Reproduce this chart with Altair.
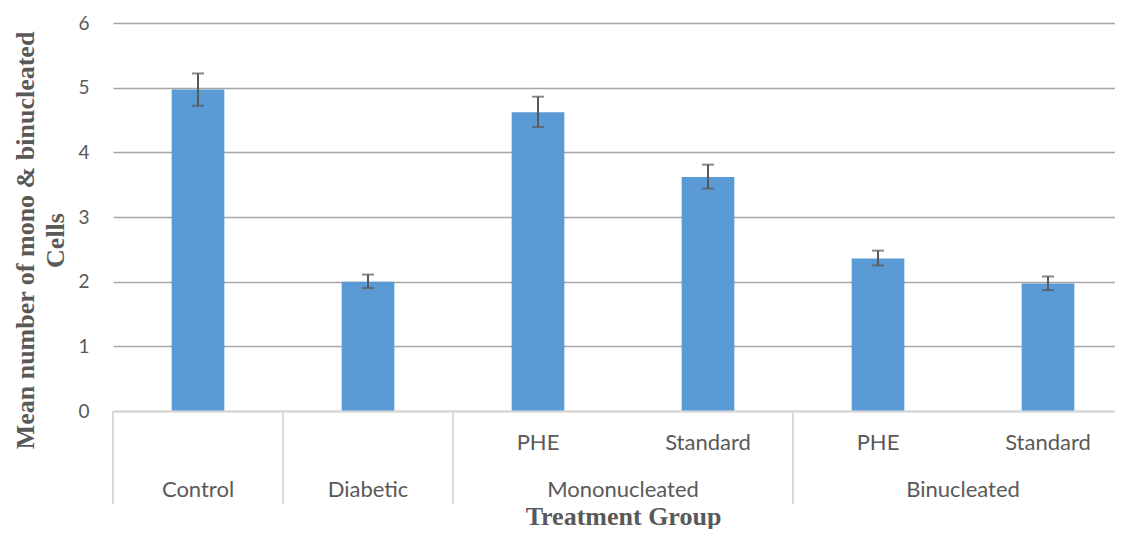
import altair as alt
import pandas as pd

groups = ["Control", "Diabetic", "Mononucleated", "Mononucleated", "Binucleated", "Binucleated"]
subs = ["", "", "PHE", "Standard", "PHE", "Standard"]
means = [4.97, 2.00, 4.62, 3.62, 2.36, 1.97]
err_low = [4.72, 1.90, 4.39, 3.44, 2.25, 1.87]
err_high = [5.22, 2.11, 4.86, 3.81, 2.48, 2.08]
y_ticks = [0, 1, 2, 3, 4, 5, 6]

keys = [g + ("|" + s if s else "") for g, s in zip(groups, subs)]
df = pd.DataFrame({"key": keys, "group": groups, "sub": subs,
                   "mean": means, "lo": err_low, "hi": err_high})

# group boundaries / label anchors
sep_rows, single_rows, multi_rows = [], [], []
for g in dict.fromkeys(groups):
    idx = [i for i, gg in enumerate(groups) if gg == g]
    sep_rows.append({"key": keys[idx[0]]})
    if len(idx) == 1:
        single_rows.append({"key": keys[idx[0]], "group": g})
    else:
        multi_rows.append({"key": keys[idx[-1]], "group": g})
df_sep = pd.DataFrame(sep_rows)
df_single = pd.DataFrame(single_rows)
df_multi = pd.DataFrame(multi_rows)
df_sub = df[df["sub"] != ""]

TXT = "#595959"
x_scale = alt.Scale(domain=keys, range=[0, 1020], paddingInner=0, paddingOuter=0)
y_scale = alt.Scale(domain=[0, 6])

bars = alt.Chart(df).mark_bar(color="#5b9bd5", width=alt.RelativeBandSize(0.31)).encode(
    x=alt.X("key:N", scale=x_scale, sort=keys,
            axis=alt.Axis(labels=False, ticks=False, grid=False, domain=True,
                          domainColor="#d9d9d9", domainWidth=2, zindex=1,
                          title="Treatment Group", titleFont="Liberation Serif",
                          titleFontWeight="bold", titleFontSize=26, titleColor=TXT,
                          titleBaseline="alphabetic", titleAlign="center",
                          titleX=510, titleY=113)),
    y=alt.Y("mean:Q", scale=y_scale,
            axis=alt.Axis(values=y_ticks, format="d", grid=True, gridColor="#a6a6a6",
                          gridWidth=1.5, domain=False, ticks=False, labelFont="Lato",
                          labelFontSize=19, labelColor=TXT, labelPadding=24,
                          title=["Mean number of mono & binucleated", "Cells"],
                          titleFont="Liberation Serif", titleFontWeight="bold",
                          titleFontSize=26, titleColor=TXT, titleAngle=270,
                          titleBaseline="middle", titleAlign="center",
                          titleLineHeight=30, titleX=-88, titleY=217)),
)

err = alt.Chart(df).mark_rule(color=TXT, strokeWidth=2).encode(
    x=alt.X("key:N", scale=x_scale, sort=keys),
    y=alt.Y("lo:Q", scale=y_scale), y2="hi:Q")
cap_lo = alt.Chart(df).mark_tick(color=TXT, thickness=2, size=12, orient="horizontal").encode(
    x=alt.X("key:N", scale=x_scale, sort=keys), y=alt.Y("lo:Q", scale=y_scale))
cap_hi = alt.Chart(df).mark_tick(color=TXT, thickness=2, size=12, orient="horizontal").encode(
    x=alt.X("key:N", scale=x_scale, sort=keys), y=alt.Y("hi:Q", scale=y_scale))

seps = alt.Chart(df_sep).mark_rule(color="#d9d9d9", strokeWidth=2).encode(
    x=alt.X("key:N", scale=x_scale, sort=keys, bandPosition=0),
    y=alt.value(388), y2=alt.value(481))

sub_txt = alt.Chart(df_sub).mark_text(font="Lato", fontSize=22, color=TXT,
                                      baseline="alphabetic", align="center").encode(
    x=alt.X("key:N", scale=x_scale, sort=keys), y=alt.value(427), text="sub:N")
single_txt = alt.Chart(df_single).mark_text(font="Lato", fontSize=22, color=TXT,
                                            baseline="alphabetic", align="center").encode(
    x=alt.X("key:N", scale=x_scale, sort=keys), y=alt.value(474), text="group:N")
multi_txt = alt.Chart(df_multi).mark_text(font="Lato", fontSize=22, color=TXT,
                                          baseline="alphabetic", align="center").encode(
    x=alt.X("key:N", scale=x_scale, sort=keys, bandPosition=0), y=alt.value(474),
    text="group:N")

chart = alt.layer(bars, err, cap_lo, cap_hi, seps, sub_txt, single_txt, multi_txt).properties(
    width=1002, height=388,
    autosize=alt.AutoSizeParams(type="none"),
    padding={"left": 105, "top": 15, "right": 0, "bottom": 118},
    background="white",
).configure_view(stroke=None)

chart.save("out.html", embed_options={"renderer": "svg", "actions": False})
